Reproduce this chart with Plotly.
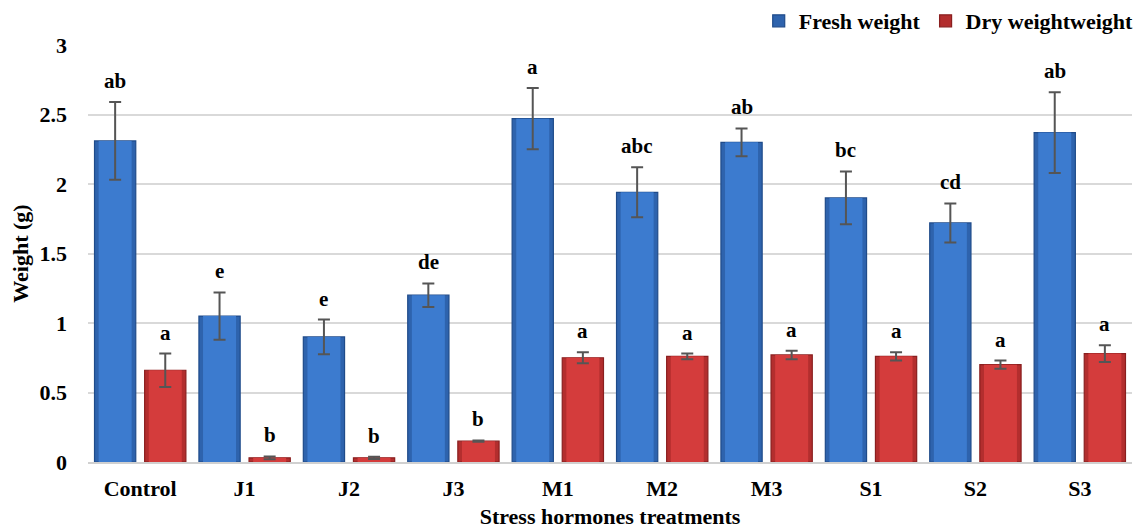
import plotly.graph_objects as go

categories = ["Control", "J1", "J2", "J3", "M1", "M2", "M3", "S1", "S2", "S3"]
fresh = [2.31, 1.05, 0.90, 1.20, 2.47, 1.94, 2.30, 1.90, 1.72, 2.37]
fresh_err = [0.28, 0.17, 0.125, 0.085, 0.22, 0.18, 0.10, 0.19, 0.14, 0.29]
dry = [0.66, 0.03, 0.03, 0.15, 0.75, 0.76, 0.77, 0.76, 0.70, 0.78]
dry_err = [0.12, 0.01, 0.008, 0.005, 0.04, 0.02, 0.03, 0.03, 0.03, 0.06]
fresh_letters = ["ab", "e", "e", "de", "a", "abc", "ab", "bc", "cd", "ab"]
dry_letters = ["a", "b", "b", "b", "a", "a", "a", "a", "a", "a"]

FONT = "Liberation Serif"
BW = 0.395          # bar width (category units)
SHIFT = 0.24        # half distance between paired bars
INNER = 0.80        # relative width of the lighter core

fig = go.Figure()


def add_series(y, err, name, dark, mid, light, center):
    fig.add_trace(go.Bar(
        x=categories, y=y, name=name, width=BW, offset=center - BW / 2,
        marker=dict(color=mid, line=dict(color=dark, width=1.2)),
        showlegend=True,
    ))
    w = BW * INNER
    fig.add_trace(go.Bar(
        x=categories, y=y, width=w, offset=center - w / 2,
        marker=dict(color=light, line=dict(width=0)),
        showlegend=False, hoverinfo="skip",
    ))
    fig.add_trace(go.Bar(
        x=categories, y=y, width=BW, offset=center - BW / 2,
        marker=dict(color="rgba(0,0,0,0)", line=dict(width=0)),
        error_y=dict(type="data", array=err, color="#555555", thickness=2, width=6),
        showlegend=False, hoverinfo="skip",
    ))


add_series(fresh, fresh_err, "Fresh weight", "#1f4b8a", "#2e63ad", "#3c7bcf", -SHIFT)
add_series(dry, dry_err, "Dry weightweight", "#8a1f1f", "#b32e2e", "#d43c3c", SHIFT)

annotations = []
for i, c in enumerate(categories):
    annotations.append(dict(x=i - SHIFT, y=fresh[i] + fresh_err[i], text=fresh_letters[i],
                            xref="x", yref="y", showarrow=False, yanchor="bottom", yshift=7,
                            font=dict(family=FONT, size=21, color="black", weight="bold")))
    annotations.append(dict(x=i + SHIFT, y=dry[i] + dry_err[i], text=dry_letters[i],
                            xref="x", yref="y", showarrow=False, yanchor="bottom", yshift=7,
                            font=dict(family=FONT, size=21, color="black", weight="bold")))

fig.update_layout(
    width=1141, height=531,
    margin=dict(l=88, r=9, t=45, b=69, autoexpand=False),
    paper_bgcolor="white", plot_bgcolor="white",
    barmode="overlay",
    font=dict(family=FONT, size=22, color="black", weight="bold"),
    showlegend=True,
    legend=dict(orientation="h", x=0.998, xanchor="right", xref="container",
                y=1.0, yanchor="top", yref="container",
                font=dict(family=FONT, size=22, weight="bold"),
                bgcolor="rgba(0,0,0,0)", traceorder="normal"),
    annotations=annotations,
    xaxis=dict(range=[-0.5, 9.5], showgrid=False, showline=True, linecolor="#d0d0d0", linewidth=2,
               ticks="", automargin=False, ticklabelstandoff=6,
               tickfont=dict(family=FONT, size=22, weight="bold"),
               title=dict(text="Stress hormones treatments", standoff=8,
                          font=dict(family=FONT, size=22, weight="bold"))),
    yaxis=dict(range=[0, 3], dtick=0.5, showgrid=True, gridcolor="#d9d9d9", gridwidth=2,
               zeroline=False, ticks="", ticklabelstandoff=20, automargin=False,
               tickfont=dict(family=FONT, size=22, weight="bold"),
               title=dict(text="Weight (g)", standoff=4,
                          font=dict(family=FONT, size=22, weight="bold"))),
)

fig.write_html("out.html", config={"displayModeBar": False},
               post_script="document.body.style.margin='0';document.body.style.overflow='hidden';")
